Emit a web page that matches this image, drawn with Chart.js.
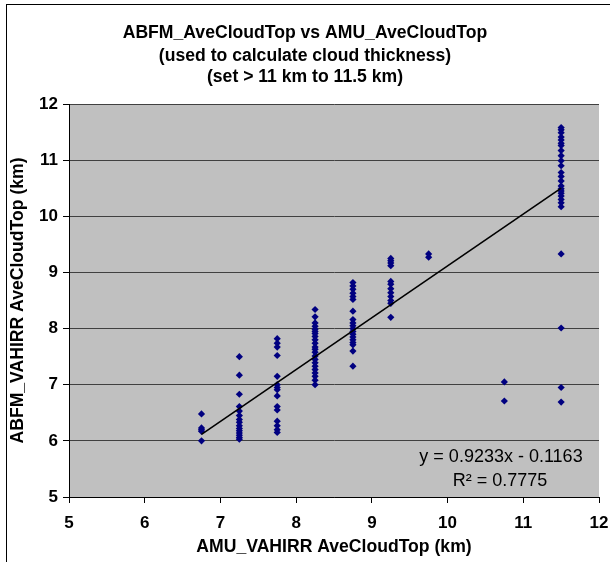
<!DOCTYPE html>
<html>
<head>
<meta charset="utf-8">
<script src="https://cdn.jsdelivr.net/npm/chart.js@4.4.1/dist/chart.umd.min.js"></script>
<style>
  html, body { margin:0; padding:0; background:#fff; }
  #wrap { width:610px; height:562px; position:relative; }
</style>
</head>
<body>
<div id="wrap"><canvas id="c" width="610" height="562"></canvas></div>
<script>
/* ABFM vs AMU average cloud top — scatter + linear trendline */

// title / axis text
const titleLines = ['ABFM_AveCloudTop vs AMU_AveCloudTop', '(used to calculate cloud thickness)', '(set > 11 km to 11.5 km)'];
const xTitle = 'AMU_VAHIRR AveCloudTop (km)';
const yTitle = 'ABFM_VAHIRR AveCloudTop (km)';
const eqText = 'y = 0.9233x - 0.1163';
const r2Text = 'R\u00B2 = 0.7775';

// axis range / ticks
const axisMin = 5, axisMax = 12, axisStep = 1;

// AMU values (x) for each column of points
const amuX = [6.75, 7.25, 7.75, 8.25, 8.75, 9.25, 9.75, 10.75, 11.5];

// ABFM values (y) in each column
const abfm675 = [6.48, 6.23, 6.2, 6.17, 6.0];
const abfm725 = [7.5, 7.17, 6.83, 6.61, 6.53, 6.45, 6.38, 6.33, 6.27, 6.22, 6.18, 6.14, 6.1, 6.06, 6.03];
const abfm775 = [7.82, 7.74, 7.67, 7.52, 7.15, 7.0, 6.95, 6.91, 6.8, 6.61, 6.55, 6.35, 6.27, 6.2, 6.15];
const abfm825 = [8.34, 8.21, 8.1, 8.04, 7.99, 7.95, 7.91, 7.86, 7.8, 7.74, 7.67, 7.63, 7.58, 7.51, 7.45, 7.39, 7.33, 7.27, 7.21, 7.15, 7.08, 7.0];
const abfm875 = [8.82, 8.76, 8.7, 8.63, 8.57, 8.52, 8.31, 8.16, 8.1, 8.05, 8.0, 7.95, 7.9, 7.85, 7.8, 7.75, 7.71, 7.6, 7.33];
const abfm925 = [9.25, 9.21, 9.17, 9.12, 8.84, 8.79, 8.71, 8.64, 8.57, 8.5, 8.45, 8.2];
const abfm975 = [9.33, 9.27];
const abfm1075 = [7.05, 6.71];
const abfm1150 = [11.58, 11.54, 11.49, 11.41, 11.36, 11.3, 11.26, 11.17, 11.08, 10.99, 10.9, 10.78, 10.71, 10.63, 10.54, 10.49, 10.45, 10.41, 10.36, 10.3, 10.24, 10.17, 9.33, 8.01, 6.95, 6.69];
const abfmCols = [abfm675, abfm725, abfm775, abfm825, abfm875, abfm925, abfm975, abfm1075, abfm1150];

// trendline (as printed on the chart), drawn over the x span of the data
const trendSlope = 0.9233, trendIntercept = -0.1163;
const trendX = [6.75, 11.5];

const points = [];
abfmCols.forEach((col, i) => col.forEach(v => points.push({ x: amuX[i], y: v })));
const trend = trendX.map(x => ({ x, y: trendSlope * x + trendIntercept }));

const FONT = 'Arial, "Liberation Sans", sans-serif';

// white page, outer frame, grey plot area
const backdrop = {
  id: 'backdrop',
  beforeDraw(chart) {
    const { ctx, chartArea: a } = chart;
    ctx.save();
    ctx.fillStyle = '#fff';
    ctx.fillRect(0, 0, chart.width, chart.height);
    ctx.strokeStyle = '#000'; ctx.lineWidth = 1;
    ctx.strokeRect(6.5, 4.5, 800, 800);
    ctx.fillStyle = '#c0c0c0';
    ctx.fillRect(a.left, a.top, a.right - a.left, a.bottom - a.top);
    ctx.restore();
  }
};

// chart title + trendline label
const texts = {
  id: 'texts',
  afterDraw(chart) {
    const { ctx } = chart;
    ctx.save();
    ctx.fillStyle = '#000';
    ctx.textAlign = 'center'; ctx.textBaseline = 'middle';
    ctx.font = 'bold 17.6px ' + FONT;
    const ty = [33, 56, 77];
    titleLines.forEach((t, i) => ctx.fillText(t, 305, ty[i]));
    ctx.font = '18px ' + FONT;
    ctx.fillText(eqText, 501, 457);
    ctx.fillText(r2Text, 500, 481);
    ctx.restore();
  }
};

new Chart(document.getElementById('c'), {
  type: 'scatter',
  data: {
    datasets: [
      { type: 'line', data: trend, borderColor: '#000', borderWidth: 1.6, pointRadius: 0, fill: false, tension: 0 },
      { data: points, pointStyle: 'rectRot', pointRadius: 3.6, backgroundColor: '#000080', borderColor: '#000080', borderWidth: 0 }
    ]
  },
  options: {
    responsive: false, animation: false,
    layout: { padding: { top: 104, right: 11, bottom: 0, left: 0 } },
    plugins: { legend: { display: false }, tooltip: { enabled: false }, title: { display: false } },
    scales: {
      x: {
        type: 'linear', min: axisMin, max: axisMax,
        afterFit: s => { s.height = 65; s.paddingRight = 0; s.paddingLeft = 0; },
        ticks: { stepSize: axisStep, color: '#000', padding: 10, font: { family: FONT, size: 17, weight: 'bold' } },
        grid: { drawOnChartArea: false, drawTicks: true, tickLength: 6, tickColor: '#000' },
        border: { display: true, color: '#000', width: 1 },
        title: { display: true, text: xTitle, color: '#000', padding: { top: 0, bottom: 4 }, font: { family: FONT, size: 17.6, weight: 'bold' } }
      },
      y: {
        type: 'linear', min: axisMin, max: axisMax,
        afterFit: s => { s.width = 69; },
        ticks: { stepSize: axisStep, color: '#000', padding: 5, font: { family: FONT, size: 17, weight: 'bold' } },
        grid: { color: '#404040', lineWidth: 1, drawTicks: true, tickLength: 6, tickColor: '#000' },
        border: { display: true, color: '#000', width: 1 },
        title: { display: true, text: yTitle, color: '#000', padding: { top: 8, bottom: 0 }, font: { family: FONT, size: 17.6, weight: 'bold' } }
      }
    }
  },
  plugins: [backdrop, texts]
});
</script>
</body>
</html>
